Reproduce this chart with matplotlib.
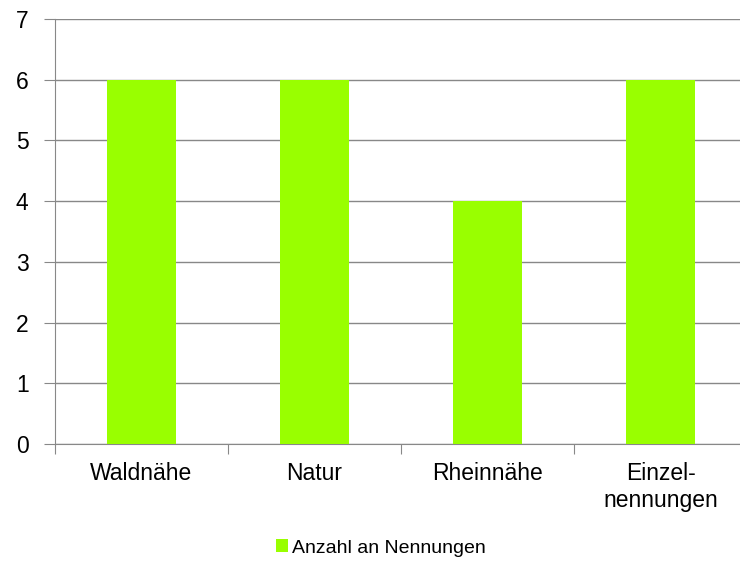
import matplotlib
matplotlib.use("Agg")
import matplotlib.pyplot as plt
from matplotlib.patches import Patch

categories = ["Waldnähe", "Natur", "Rheinnähe", "Einzel-\nnennungen"]
values = [6, 6, 4, 6]
series_name = "Anzahl an Nennungen"
yticks = [0, 1, 2, 3, 4, 5, 6, 7]

plt.rcParams['font.family'] = ['Liberation Sans', 'DejaVu Sans']
W, H = 740, 562
fig = plt.figure(figsize=(W/100, H/100), dpi=100)
left, right = 55/W, 747/W
top, bottom = 1 - 19/H, 1 - 444/H
ax = fig.add_axes([left, bottom, right - left, top - bottom])

green = "#99ff00"
gray = "#888888"
x = list(range(len(categories)))
ax.bar(x, values, width=0.4, color=green, zorder=3)
ax.set_xlim(-0.5, len(categories) - 0.5)
ax.set_ylim(0, 7)
ax.set_yticks(yticks)
ax.yaxis.grid(True, color=gray, linewidth=1, zorder=0)
for s in ["top", "right"]:
    ax.spines[s].set_visible(False)
ax.spines["left"].set_color(gray)
ax.spines["bottom"].set_color(gray)
ax.tick_params(axis="y", length=8, color=gray, labelsize=16.5, pad=11)
ax.set_xticks([i + 0.5 for i in range(-1, len(categories))], minor=False)
ax.set_xticklabels([])
ax.set_xticks(x, minor=True)
ax.set_xticklabels(categories, minor=True, fontsize=16.5, linespacing=1.2)
ax.tick_params(axis="x", which="major", length=7, color=gray)
ax.tick_params(axis="x", which="minor", length=0, pad=13)

handle = Patch(facecolor=green, edgecolor="none")
fig.legend([handle], [series_name], loc="center", bbox_to_anchor=(381/W, 1 - 548/H),
           frameon=False, fontsize=14, handlelength=0.6, handleheight=0.6,
           handletextpad=0.2)

fig.savefig("out.png", dpi=100)
